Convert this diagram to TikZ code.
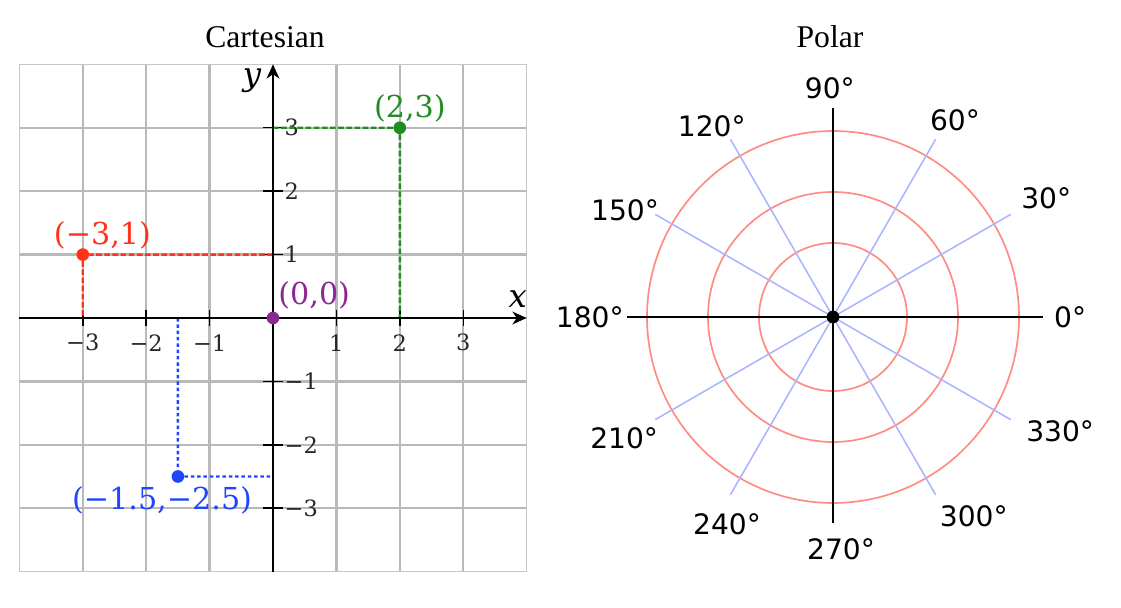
\documentclass[tikz,border=0pt]{standalone}
\usepackage{fontspec}
\setmainfont{Liberation Serif}
\newfontfamily\ptfont{DejaVu Serif}
\newfontfamily\degfont{DejaVu Sans}
\usetikzlibrary{arrows.meta}

\begin{document}
\begin{tikzpicture}[line join=round,
    gridline/.style={gray!55, line width=1.8pt},
    axisline/.style={black, line width=1.8pt, -{Stealth[length=10pt, width=9pt, inset=3pt]}},
    tickmark/.style={black, line width=1pt},
    ticklabel/.style={font=\ptfont\fontsize{16}{16}\selectfont, text=black!85, inner sep=0pt},
    guide/.style={line width=1.7pt, dash pattern=on 4pt off 1.8pt},
    pt/.style={circle, fill, inner sep=0pt, minimum size=9pt},
    ptlabel/.style={font=\ptfont\fontsize{21.5}{21.5}\selectfont, inner sep=0pt},
    ring/.style={cRing, line width=1.2pt},
    ray/.style={cRay, line width=1.1pt},
    deglabel/.style={font=\degfont\fontsize{20}{20}\selectfont, inner sep=0pt}]
  \definecolor{cGreen}{RGB}{34, 139, 34}
  \definecolor{cRed}{RGB}{255, 50, 25}
  \definecolor{cBlue}{RGB}{30, 70, 255}
  \definecolor{cPurple}{RGB}{140, 40, 150}
  \definecolor{cRing}{RGB}{255, 140, 130}
  \definecolor{cRay}{RGB}{170, 180, 255}

  \useasboundingbox (0,0) rectangle (28.025,15.175);

  \node[font=\fontsize{22.5}{22.5}\selectfont] (tCart) at (6.625,14.25) {Cartesian};
  \node[font=\fontsize{22.5}{22.5}\selectfont] (tPolar) at (20.75,14.25) {Polar};

  % cartesian plane
  \begin{scope}[shift={(6.825,7.225)}, scale=1.585]
    \foreach \k in {-3,...,3}{
      \draw[gridline] (\k,-4) -- (\k,4);
      \draw[gridline] (-4,\k) -- (4,\k);
    }
    \draw[gray!45, line width=0.9pt] (-4,-4) rectangle (4,4);

    \foreach \k/\s/\n in {-3/−3/m3, -2/−2/m2, -1/−1/m1, 1/1/p1, 2/2/p2, 3/3/p3}{
      \draw[tickmark] (\k,-0.12) -- (\k,0.12);
      \draw[tickmark] (-0.15,\k) -- (0.15,\k);
      \node[ticklabel] (xt\n) at (\k,-0.39) {\s};
      \node[ticklabel, anchor=west] (yt\n) at (0.18,\k) {\s};
    }

    \coordinate (org) at (0,0);
    \coordinate (gx) at (2,0);
    \coordinate (gy) at (0,3);
    \coordinate (rx) at (-3,0);
    \coordinate (ry) at (0,1);
    \coordinate (bx) at (-1.5,0);
    \coordinate (by) at (0,-2.5);

    \node[pt, cGreen] (pG) at (2,3) {};
    \node[pt, cRed] (pR) at (-3,1) {};
    \node[pt, cBlue] (pB) at (-1.5,-2.5) {};

    \draw[guide, cGreen] (gy) -- (pG) -- (gx);
    \draw[guide, cRed] (ry) -- (pR) -- (rx);
    \draw[guide, cBlue, dash pattern=on 2.5pt off 2pt] (bx) -- (pB) -- (by);

    \draw[axisline] (-4,0) -- (4,0);
    \draw[axisline] (0,-4) -- (0,4);
    \node[pt, cPurple] (pO) at (org) {};

    \node[ptlabel, cGreen] (lG) at (2.16,3.31) {(2,3)};
    \node[ptlabel, cRed] (lR) at (-2.69,1.31) {(−3,1)};
    \node[ptlabel, cPurple] (lO) at (0.65,0.35) {(0,0)};
    \node[ptlabel, cBlue] (lB) at (-1.75,-2.87) {(−1.5,−2.5)};
    \node[ptlabel, font=\ptfont\itshape\fontsize{23}{23}\selectfont] (lx) at (3.86,0.3) {x};
    \node[ptlabel, font=\ptfont\itshape\fontsize{23}{23}\selectfont] (ly) at (-0.33,3.75) {y};
  \end{scope}

  % polar plane
  \begin{scope}[shift={(20.825,7.25)}]
    \foreach \r in {1.85, 3.125, 4.65}
      \draw[ring] (0,0) circle (\r);
    \foreach \a in {30,60,120,150,210,240,300,330}
      \draw[ray] (0,0) -- (\a:5.13);
    \draw[black, line width=1.4pt] (-5.15,0) -- (5.25,0);
    \draw[black, line width=1.4pt] (0,-5.15) -- (0,5.23);
    \fill (0,0) circle (0.16);
    \node[inner sep=0pt] (pole) at (0,0) {};

    \foreach \d/\x/\y in {0/5.93/0, 30/5.33/2.98, 60/3.05/4.93, 90/-0.08/5.73,
        120/-3.03/4.78, 150/-5.2/2.68, 180/-6.08/0, 210/-5.22/-3.03,
        240/-2.65/-5.18, 270/0.2/-5.8, 300/3.52/-4.98, 330/5.68/-2.85}
      \node[deglabel] (d\d) at (\x,\y) {\d°};
  \end{scope}
\end{tikzpicture}
\end{document}
